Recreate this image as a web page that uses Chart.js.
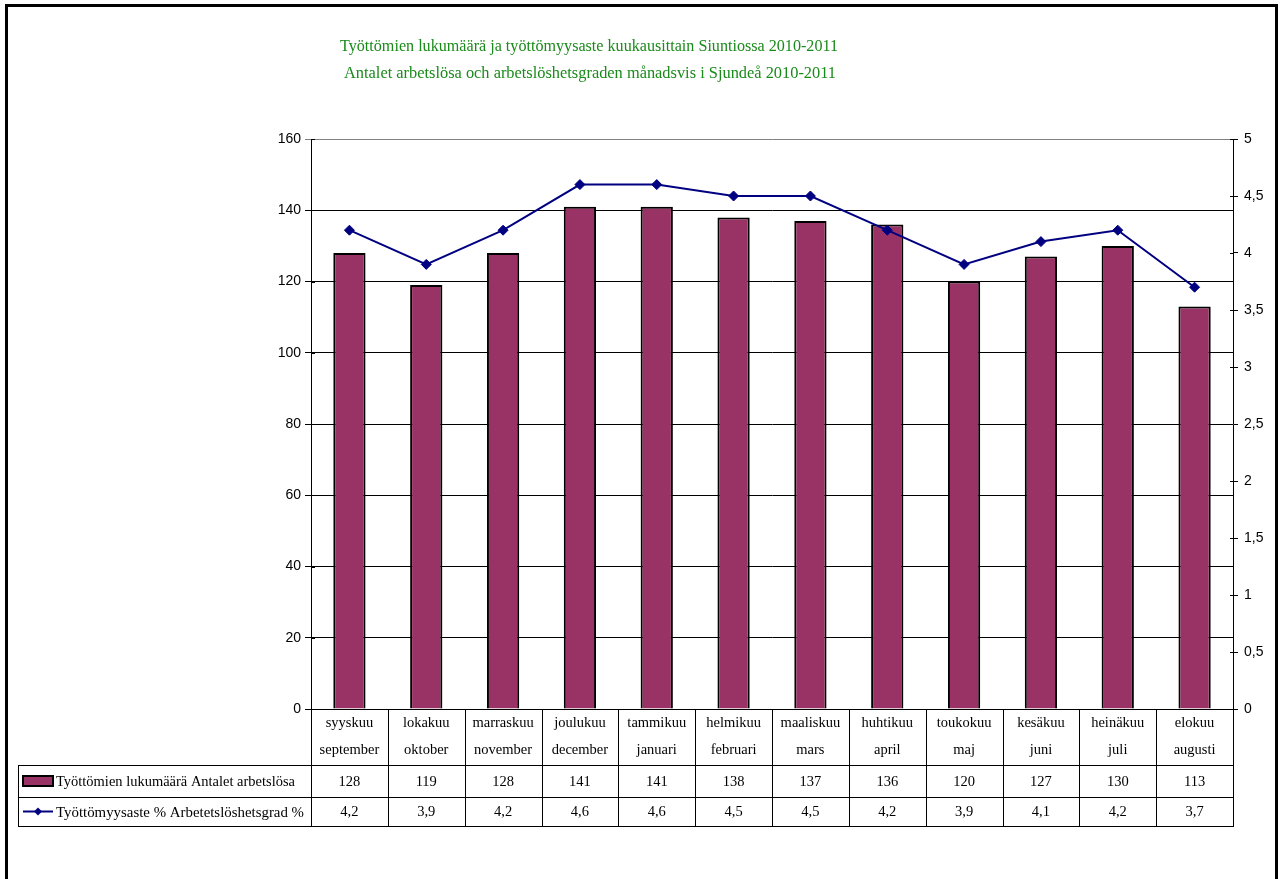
<!DOCTYPE html>
<html>
<head>
<meta charset="utf-8">
<script src="https://cdn.jsdelivr.net/npm/chart.js@4.4.1/dist/chart.umd.min.js"></script>
<style>
  html, body { margin: 0; padding: 0; background: #fff; }
  #wrap { width: 1283px; height: 879px; }
</style>
</head>
<body>
<div id="wrap"><canvas id="chart" width="1283" height="879"></canvas></div>
<script>
/* ==========================================================================
   Data
   ========================================================================== */

const titleFi = 'Työttömien lukumäärä ja työttömyysaste kuukausittain Siuntiossa 2010-2011';
const titleSv = 'Antalet arbetslösa och arbetslöshetsgraden månadsvis i Sjundeå 2010-2011';

const monthsFi = ['syyskuu', 'lokakuu', 'marraskuu', 'joulukuu', 'tammikuu', 'helmikuu',
    'maaliskuu', 'huhtikuu', 'toukokuu', 'kesäkuu', 'heinäkuu', 'elokuu'];
const monthsSv = ['september', 'oktober', 'november', 'december', 'januari', 'februari',
    'mars', 'april', 'maj', 'juni', 'juli', 'augusti'];

const seriesNames = ['Työttömien lukumäärä Antalet arbetslösa', 'Työttömyysaste % Arbetetslöshetsgrad %'];
const unemployed = [128, 119, 128, 141, 141, 138, 137, 136, 120, 127, 130, 113];
const rate = [4.2, 3.9, 4.2, 4.6, 4.6, 4.5, 4.5, 4.2, 3.9, 4.1, 4.2, 3.7];

const BAR_COLOR = '#993366';
const LINE_COLOR = '#000080';
const SERIF = "'Liberation Serif', 'Times New Roman', serif";
const SANS = "'Liberation Sans', Arial, sans-serif";

const fmtComma = v => String(v).replace('.', ',');

/* ==========================================================================
   Helpers
   ========================================================================== */

// draw text squeezed/stretched horizontally to a target width
function drawFitted(ctx, text, x, y, targetW, align = 'center') {
    const w = ctx.measureText(text).width;
    ctx.save();
    ctx.translate(x, y);
    ctx.scale(targetW / w, 1);
    ctx.textAlign = align;
    ctx.fillText(text, 0, 0);
    ctx.restore();
}

/* ==========================================================================
   Plugins: frame, title and data table
   ========================================================================== */

const framePlugin = {
    id: 'frame',
    beforeDraw(chart) {
        const ctx = chart.ctx;
        ctx.save();
        ctx.fillStyle = '#fff';
        ctx.fillRect(0, 0, chart.width, chart.height);

        ctx.fillStyle = '#1a8a1a';
        ctx.font = '17px ' + SERIF;
        ctx.textBaseline = 'alphabetic';
        drawFitted(ctx, titleFi, 589, 51, 498);
        drawFitted(ctx, titleSv, 590, 78, 492);
        ctx.restore();
    },
    afterDraw(chart) {
        const ctx = chart.ctx;
        ctx.save();
        ctx.strokeStyle = '#000';
        ctx.lineWidth = 3;
        ctx.strokeRect(6.5, 5.5, 1270, 1000);
        ctx.restore();
    }
};

const tablePlugin = {
    id: 'dataTable',
    afterDraw(chart) {
        const ctx = chart.ctx;
        const x = chart.scales.x;
        const area = chart.chartArea;
        const n = monthsFi.length;

        // column boundaries from the category scale
        const bounds = [area.left];
        for (let i = 1; i < n; i++) {
            bounds.push((x.getPixelForValue(i - 1) + x.getPixelForValue(i)) / 2);
        }
        bounds.push(area.right);

        const top = area.bottom;
        const headBottom = top + 56;
        const row1Bottom = headBottom + 32;
        const row2Bottom = row1Bottom + 29;
        const legendLeft = 18;

        ctx.save();
        ctx.strokeStyle = '#000';
        ctx.lineWidth = 1;
        ctx.beginPath();
        bounds.forEach(b => {
            const px = Math.round(b) + 0.5;
            ctx.moveTo(px, top);
            ctx.lineTo(px, row2Bottom);
        });
        [headBottom, row1Bottom, row2Bottom].forEach(yy => {
            ctx.moveTo(legendLeft, yy + 0.5);
            ctx.lineTo(Math.round(area.right) + 1, yy + 0.5);
        });
        ctx.moveTo(legendLeft + 0.5, headBottom);
        ctx.lineTo(legendLeft + 0.5, row2Bottom);
        ctx.stroke();

        // inner tick marks of both axes
        const y1 = chart.scales.y1;
        ctx.beginPath();
        y1.ticks.forEach(t => {
            const py = Math.round(y1.getPixelForValue(t.value)) + 0.5;
            ctx.moveTo(area.right - 3, py);
            ctx.lineTo(area.right, py);
        });
        const y = chart.scales.y;
        y.ticks.forEach(t => {
            const py = Math.round(y.getPixelForValue(t.value)) + 0.5;
            ctx.moveTo(area.left, py);
            ctx.lineTo(area.left + 4, py);
        });
        ctx.stroke();

        // header & value text
        ctx.fillStyle = '#000';
        ctx.textAlign = 'center';
        ctx.textBaseline = 'middle';
        ctx.font = '14.5px ' + SERIF;
        for (let i = 0; i < n; i++) {
            const cx = (bounds[i] + bounds[i + 1]) / 2;
            ctx.fillText(monthsFi[i], cx, top + 14);
            ctx.fillText(monthsSv[i], cx, top + 41);
            ctx.fillText(String(unemployed[i]), cx, (headBottom + row1Bottom) / 2 + 1);
            ctx.fillText(fmtComma(rate[i].toFixed(1)), cx, (row1Bottom + row2Bottom) / 2 + 1);
        }

        // legend keys
        const r1 = (headBottom + row1Bottom) / 2;
        const r2 = (row1Bottom + row2Bottom) / 2;
        ctx.fillStyle = BAR_COLOR;
        ctx.fillRect(23, r1 - 5, 30, 10);
        ctx.lineWidth = 2;
        ctx.strokeStyle = '#000';
        ctx.strokeRect(23, r1 - 5, 30, 10);

        ctx.strokeStyle = LINE_COLOR;
        ctx.lineWidth = 2;
        ctx.beginPath();
        ctx.moveTo(23, r2);
        ctx.lineTo(53, r2);
        ctx.stroke();
        ctx.fillStyle = LINE_COLOR;
        ctx.beginPath();
        ctx.moveTo(38, r2 - 4);
        ctx.lineTo(42, r2);
        ctx.lineTo(38, r2 + 4);
        ctx.lineTo(34, r2);
        ctx.closePath();
        ctx.fill();

        ctx.fillStyle = '#000';
        ctx.font = '15.5px ' + SERIF;
        drawFitted(ctx, seriesNames[0], 56, r1 + 1, 239, 'left');
        drawFitted(ctx, seriesNames[1], 56, r2 + 1, 248, 'left');
        ctx.restore();
    }
};

/* ==========================================================================
   Chart
   ========================================================================== */

const ctx = document.getElementById('chart').getContext('2d');

new Chart(ctx, {
    type: 'bar',
    data: {
        labels: monthsFi,
        datasets: [{
            type: 'line',
            label: seriesNames[1],
            data: rate,
            yAxisID: 'y1',
            order: 0,
            borderColor: LINE_COLOR,
            backgroundColor: LINE_COLOR,
            borderWidth: 2,
            tension: 0,
            pointStyle: 'rectRot',
            pointRadius: 5,
            pointBorderWidth: 1
        }, {
            type: 'bar',
            label: seriesNames[0],
            data: unemployed,
            yAxisID: 'y',
            order: 1,
            backgroundColor: BAR_COLOR,
            borderColor: '#000',
            borderWidth: 2,
            categoryPercentage: 1,
            barPercentage: 0.42
        }]
    },
    options: {
        responsive: false,
        animation: false,
        layout: {
            padding: { top: 139, bottom: 170, left: 0, right: 0 }
        },
        plugins: {
            legend: { display: false },
            tooltip: { enabled: false },
            title: { display: false }
        },
        scales: {
            x: {
                display: false
            },
            y: {
                position: 'left',
                min: 0,
                max: 160,
                afterFit: s => { s.width = 311; },
                ticks: {
                    stepSize: 20,
                    color: '#000',
                    padding: 4,
                    font: { family: SANS, size: 14 }
                },
                grid: {
                    color: c => (c.tick && c.tick.value === 160) ? '#808080' : '#000',
                    lineWidth: 1,
                    tickLength: 6
                },
                border: { display: true, color: '#000', width: 1 }
            },
            y1: {
                position: 'right',
                min: 0,
                max: 5,
                afterFit: s => { s.width = 50; },
                ticks: {
                    stepSize: 0.5,
                    color: '#000',
                    padding: 6,
                    font: { family: SANS, size: 14 },
                    callback: v => fmtComma(v)
                },
                grid: {
                    drawOnChartArea: false,
                    color: '#000',
                    tickLength: 5
                },
                border: { display: true, color: '#000', width: 1 }
            }
        }
    },
    plugins: [framePlugin, tablePlugin]
});
</script>
</body>
</html>
